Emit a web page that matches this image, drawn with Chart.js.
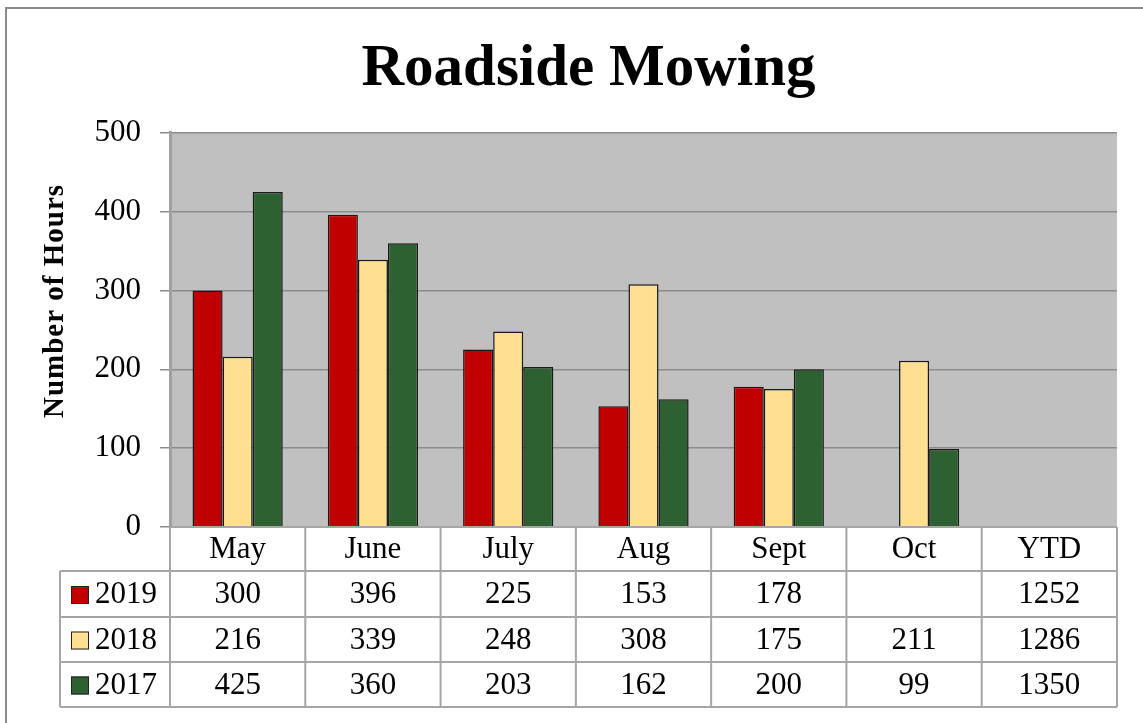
<!DOCTYPE html>
<html>
<head>
<meta charset="utf-8">
<script src="https://cdn.jsdelivr.net/npm/chart.js@4.4.0/dist/chart.umd.min.js"></script>
<style>
  body { margin: 0; background: #fff; }
  canvas { display: block; }
</style>
</head>
<body>
<canvas id="mowChart" width="1143" height="723"></canvas>
<script>
// data
var months = ['May', 'June', 'July', 'Aug', 'Sept', 'Oct', 'YTD'];
var years  = ['2019', '2018', '2017'];
var hours2019 = [300, 396, 225, 153, 178, null];
var hours2018 = [216, 339, 248, 308, 175, 211];
var hours2017 = [425, 360, 203, 162, 200, 99];
var ytdTotals = [1252, 1286, 1350];
var yTicks = [0, 100, 200, 300, 400, 500];

var colors = ['#c00000', '#ffdf91', '#2d6131'];
var serif  = '"Liberation Serif", "Times New Roman", serif';

// bars stop at Oct, the YTD column only lives in the table
function barsFor(arr) {
    return months.map(function(m, i) { return m === 'YTD' ? null : arr[i]; });
}

var seriesVals = [hours2019, hours2018, hours2017];

// grey frame + grey plot background
var backdrop = {
    id: 'backdrop',
    beforeDraw: function(chart) {
        var ctx = chart.ctx;
        var a   = chart.chartArea;
        ctx.save();
        ctx.fillStyle = '#c0c0c0';
        ctx.fillRect(a.left, a.top, a.right - a.left, a.bottom - a.top);
        ctx.strokeStyle = '#8c8c8c';
        ctx.lineWidth = 2;
        ctx.strokeRect(6, 8, 1160, 740);
        ctx.restore();
    }
};

// data table under the plot + rotated axis title
var dataTable = {
    id: 'dataTable',
    afterDraw: function(chart) {
        var ctx  = chart.ctx;
        var a    = chart.chartArea;
        var xs   = chart.scales.x;
        var colW = (a.right - a.left) / months.length;
        var rows = [a.bottom, a.bottom + 44, a.bottom + 90, a.bottom + 135, a.bottom + 180];
        var legLeft = 60;

        ctx.save();
        ctx.strokeStyle = '#a6a6a6';
        ctx.lineWidth = 2;
        ctx.beginPath();
        // horizontal lines
        ctx.moveTo(a.left, rows[0]); ctx.lineTo(a.right, rows[0]);
        for (var r = 1; r < rows.length; r++) {
            ctx.moveTo(legLeft, rows[r]); ctx.lineTo(a.right, rows[r]);
        }
        // vertical lines
        ctx.moveTo(legLeft, rows[1]); ctx.lineTo(legLeft, rows[4]);
        for (var c = 0; c <= months.length; c++) {
            var x = a.left + c * colW;
            ctx.moveTo(x, rows[0]); ctx.lineTo(x, rows[4]);
        }
        ctx.stroke();

        ctx.fillStyle = '#000';
        ctx.font = '31px ' + serif;
        ctx.textAlign = 'center';
        ctx.textBaseline = 'middle';
        months.forEach(function(m, i) {
            var cx = xs.getPixelForValue(i);
            ctx.fillText(m, cx, (rows[0] + rows[1]) / 2 + 1);
        });

        years.forEach(function(yr, k) {
            var cy = (rows[k + 1] + rows[k + 2]) / 2 + 1;
            // legend swatch
            ctx.fillStyle = colors[k];
            ctx.fillRect(71, cy - 9, 18, 18);
            ctx.strokeStyle = '#222';
            ctx.lineWidth = 1;
            ctx.strokeRect(71.5, cy - 8.5, 17, 17);
            ctx.fillStyle = '#000';
            ctx.textAlign = 'left';
            ctx.fillText(yr, 95, cy);
            ctx.textAlign = 'center';
            months.forEach(function(m, i) {
                var v = m === 'YTD' ? ytdTotals[k] : seriesVals[k][i];
                if (v === null || v === undefined) return;
                ctx.fillText(String(v), xs.getPixelForValue(i), cy);
            });
        });

        // y axis title
        ctx.translate(56, 301);
        ctx.rotate(-Math.PI / 2);
        ctx.font = 'bold 29px ' + serif;
        ctx.letterSpacing = '1px';
        ctx.fillText('Number of Hours', 0, 0);
        ctx.restore();
    }
};

var ctx = document.getElementById('mowChart');
var mowChart = new Chart(ctx, {
    type: 'bar',
    plugins: [backdrop, dataTable],
    data: {
        labels: months,
        datasets: years.map(function(yr, k) {
            return {
                label: yr,
                data: barsFor(seriesVals[k]),
                backgroundColor: colors[k],
                borderColor: '#1a1a1a',
                borderWidth: 1.5,
                categoryPercentage: 0.667,
                barPercentage: 1.0
            };
        })
    },
    options: {
        responsive: false,
        animation: false,
        layout: {
            padding: { left: 60, right: 26, top: 0, bottom: 196 }
        },
        plugins: {
            legend: { display: false },
            tooltip: { enabled: false },
            title: {
                display: true,
                text: 'Roadside Mowing',
                color: '#000',
                font: { family: serif, size: 59, weight: 'bold' },
                padding: { top: 34, bottom: 28 }
            }
        },
        scales: {
            x: {
                display: false
            },
            y: {
                min: 0,
                max: 500,
                afterBuildTicks: function(scale) {
                    scale.ticks = yTicks.map(function(v) { return { value: v }; });
                },
                afterFit: function(scale) { scale.width = 110; },
                grid: {
                    color: '#8c8c8c',
                    lineWidth: 1.5,
                    tickLength: 10,
                    tickColor: '#8c8c8c'
                },
                border: { color: '#a0a0a0', width: 3 },
                ticks: {
                    color: '#000',
                    padding: 19,
                    font: { family: serif, size: 31 }
                }
            }
        }
    }
});
</script>
</body>
</html>
